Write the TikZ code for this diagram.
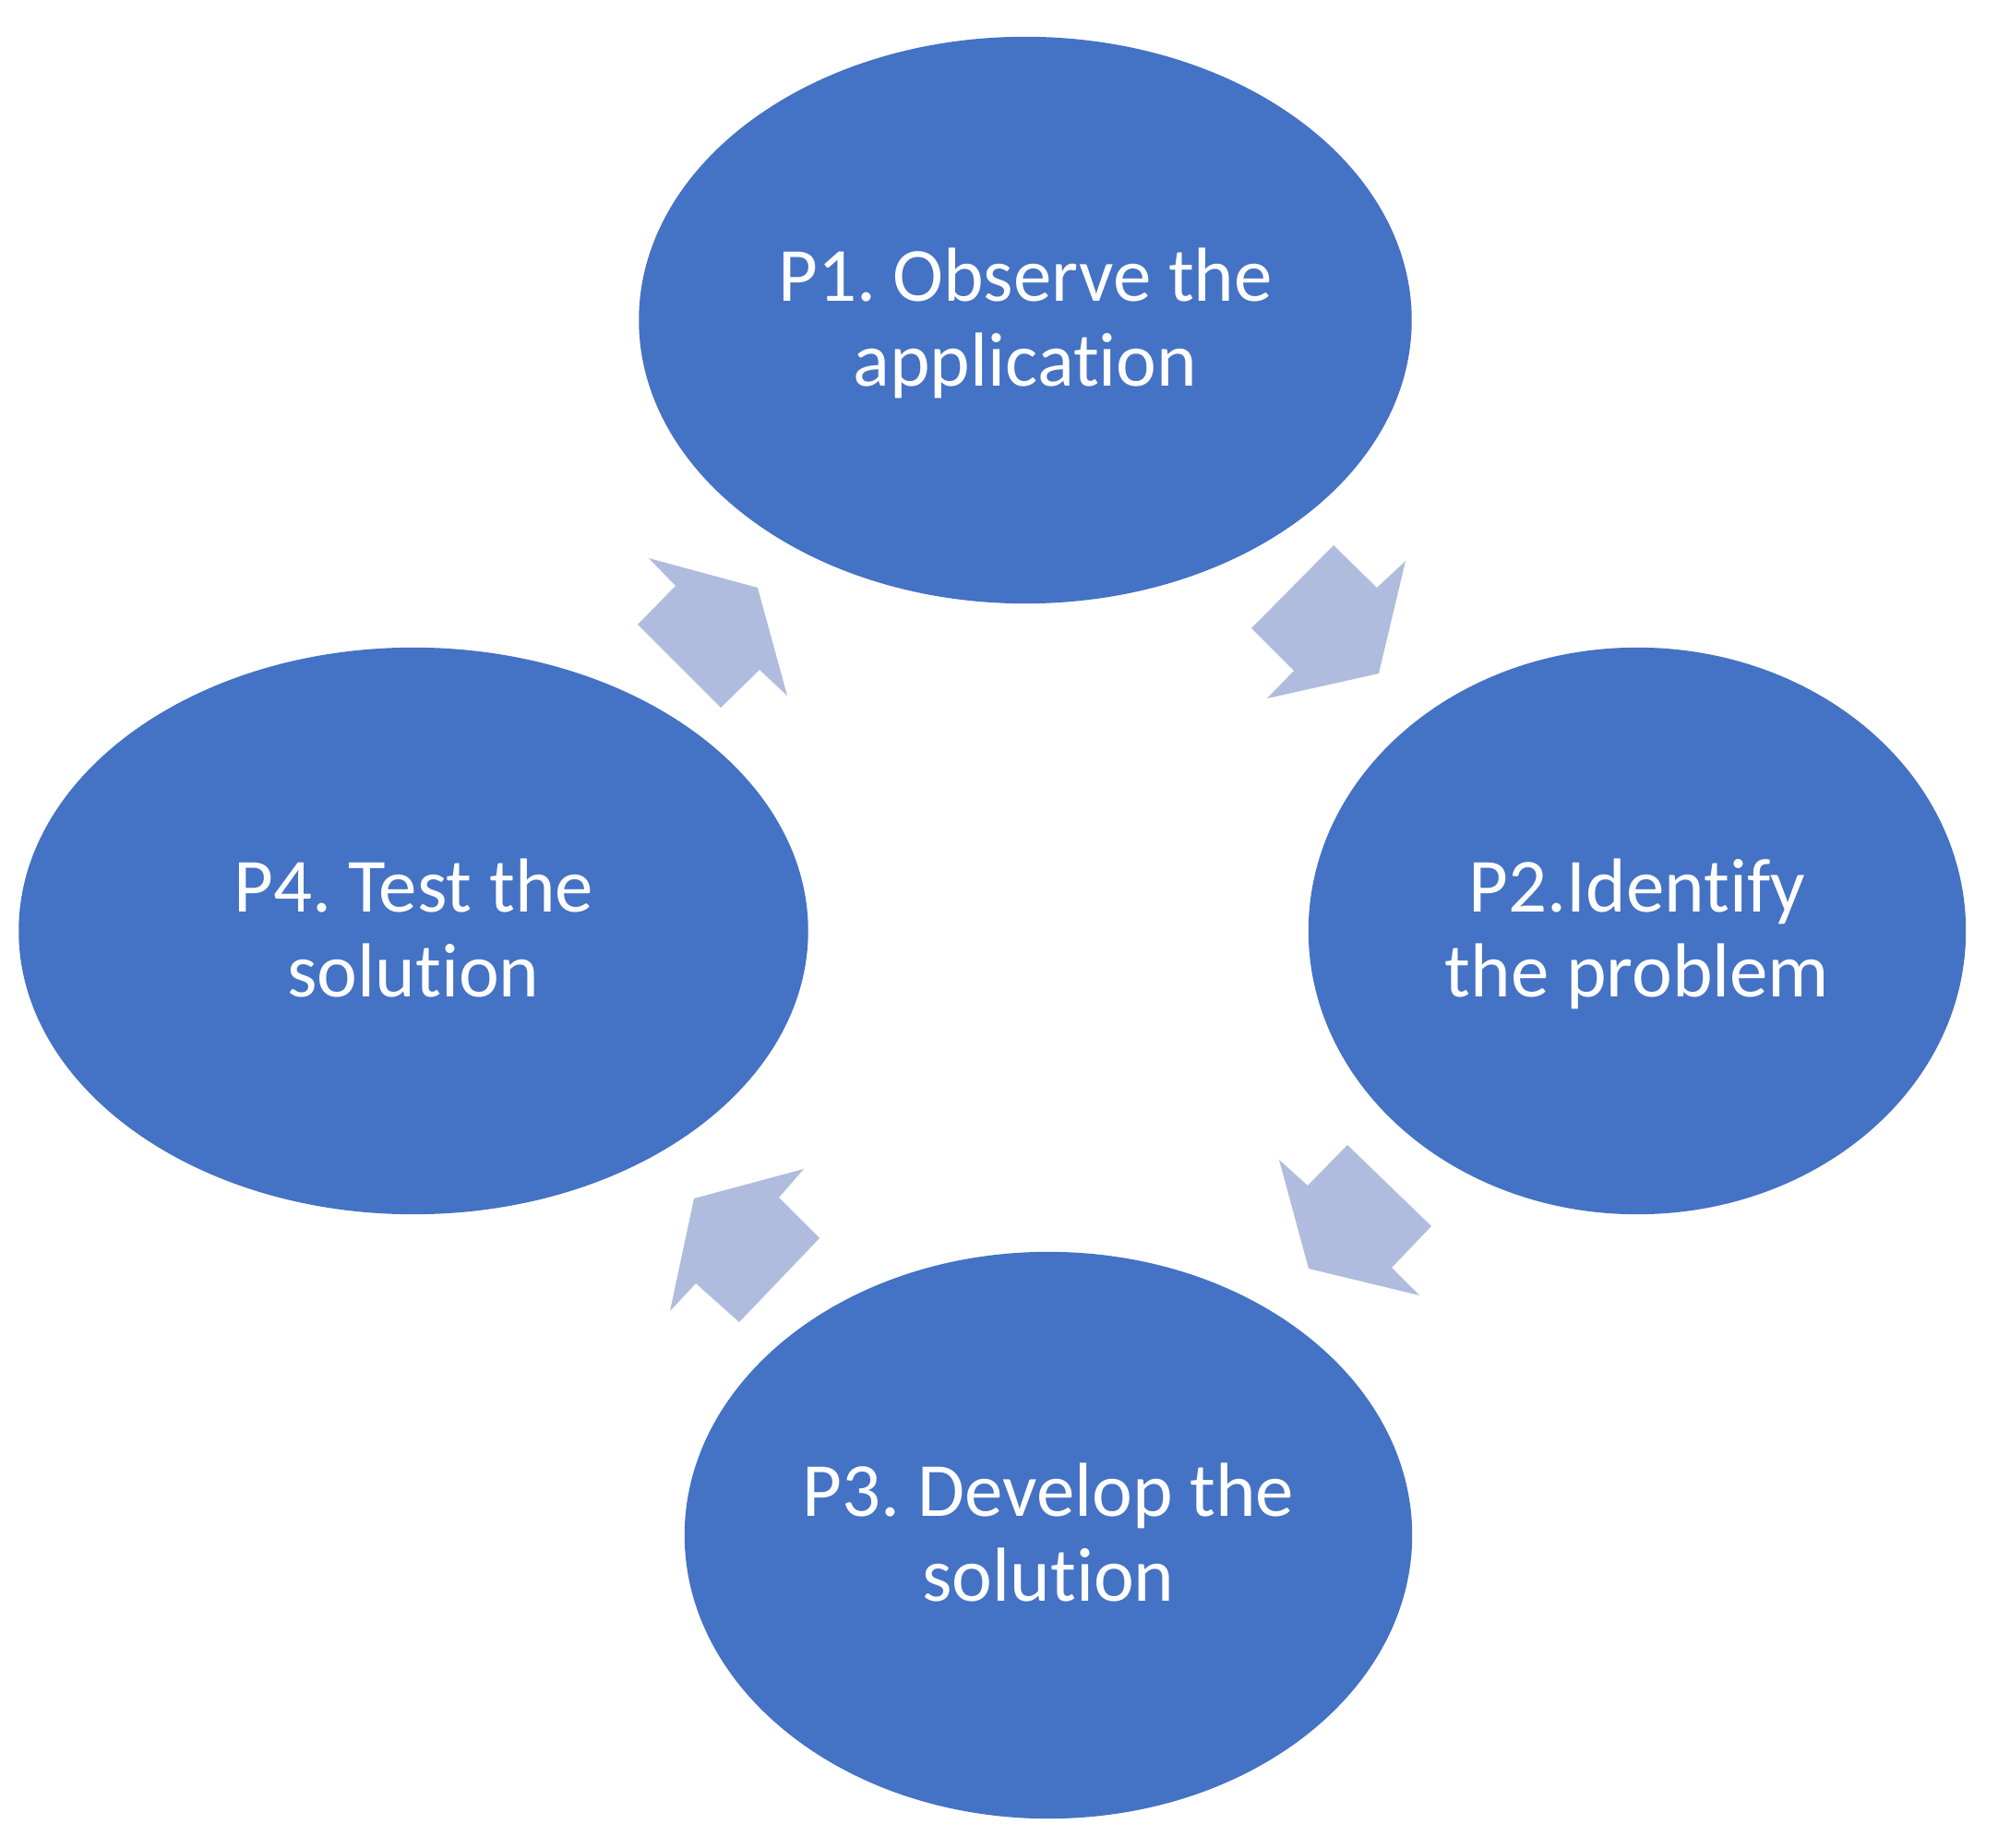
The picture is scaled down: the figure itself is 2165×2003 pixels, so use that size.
\documentclass[tikz,border=0pt]{standalone}
\usepackage{fontspec}
\setmainfont{Carlito}[Ligatures=NoCommon]
\frenchspacing
\usetikzlibrary{shapes.geometric}
\usepackage{xcolor}
\definecolor{phaseblue}{RGB}{68,114,196}
\definecolor{arrowblue}{RGB}{175,188,222}

\begin{document}
\begin{tikzpicture}[x=0.01cm, y=-0.01cm,
    phase/.style={ellipse, fill=phaseblue, inner sep=0pt, minimum height=6.14cm,
      text=white, align=center, text depth=0.2em,
      font=\fontsize{23.6pt}{26.3pt}\selectfont},
    cyclearrow/.style={fill=arrowblue}]
    \useasboundingbox (0,0) rectangle (2165,2003);
    % Fases
    \node[phase, minimum width=8.37cm] (p1) at (1111,347) {P1. Observe the\\application};
    \node[phase, minimum width=7.12cm] (p2) at (1774,1009) {P2.Identify\\the problem};
    \node[phase, minimum width=7.88cm] (p3) at (1136,1664) {P3. Develop the\\solution};
    \node[phase, minimum width=8.55cm] (p4) at (448,1009) {P4. Test the\\solution};
    % Setas do ciclo
    \fill[cyclearrow] (1445,591) -- (1492,637) -- (1523,608) -- (1494,730) -- (1373,757) -- (1402,727) -- (1356,681) -- cycle;
    \fill[cyclearrow] (1386,1257) -- (1417,1285) -- (1460,1241) -- (1551,1329) -- (1508,1374) -- (1538,1404) -- (1418,1375) -- cycle;
    \fill[cyclearrow] (871,1267) -- (844,1298) -- (888,1342) -- (801,1433) -- (754,1391) -- (726,1421) -- (752,1299) -- cycle;
    \fill[cyclearrow] (703,605) -- (821,637) -- (853,754) -- (823,726) -- (781,767) -- (691,677) -- (732,635) -- cycle;
\end{tikzpicture}
\end{document}
